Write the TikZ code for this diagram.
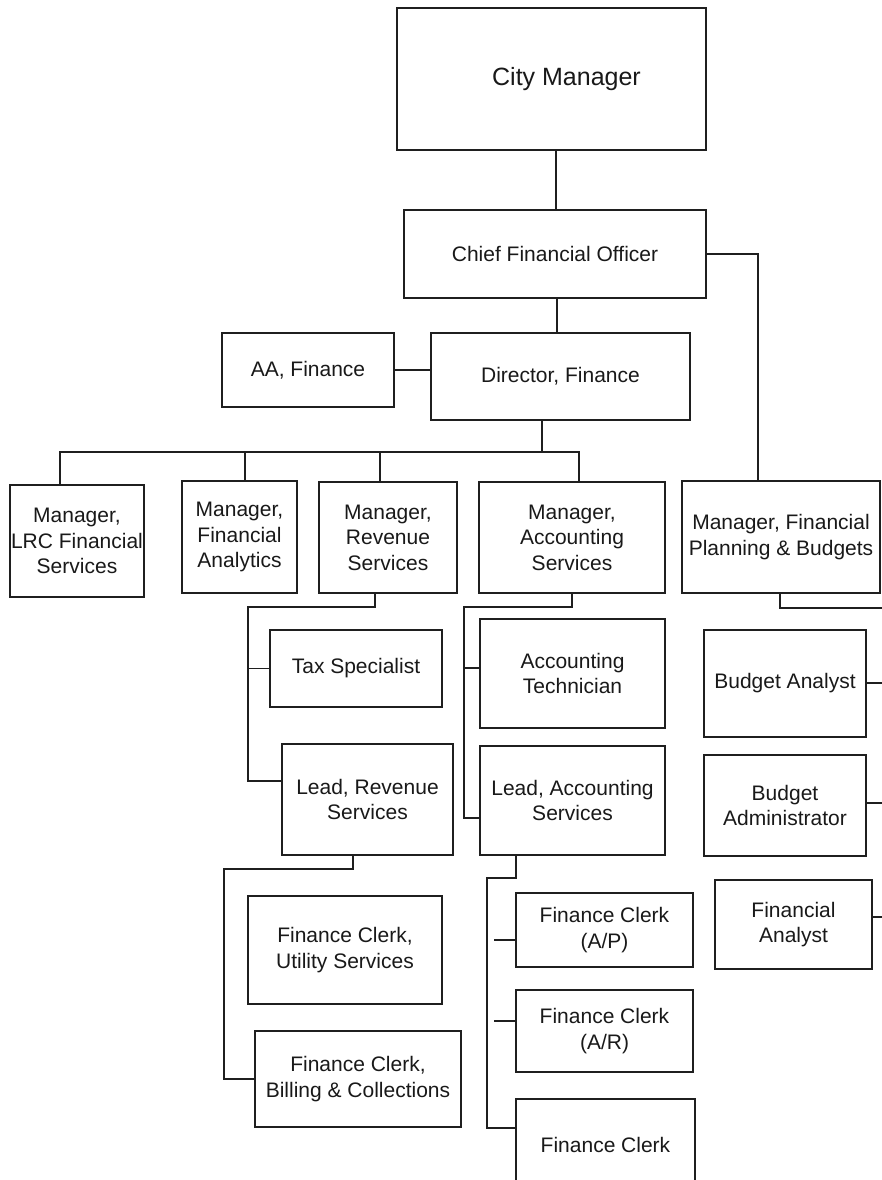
\documentclass[tikz,border=0pt]{standalone}
\usepackage{fontspec}
\setmainfont{Liberation Sans}
\usetikzlibrary{calc}
\tikzset{
  box/.style={draw=black!88, line width=1.8pt, rectangle, inner sep=0pt,
              align=center, text=black!90, font=\fontsize{21}{25.5}\selectfont},
  link/.style={draw=black!88, line width=1.8pt},
}
\begin{document}
\begin{tikzpicture}[x=1pt,y=-1pt]
\useasboundingbox (0,0) rectangle (881,1180);
\fill[white] (0,0) rectangle (881,1180);

% top of the organisation
\node[box, minimum width=309pt, minimum height=142pt, font=\fontsize{25}{30}\selectfont] (cm) at (551.5,79) {\hspace*{30pt}\raisebox{-10pt}{City Manager}};
\node[box, minimum width=302pt, minimum height=88pt] (cfo) at (555,254) {Chief Financial Officer};
\node[box, minimum width=259pt, minimum height=87pt] (dir) at (560.5,376.5) {Director, Finance};
\node[box, minimum width=172pt, minimum height=74pt] (aa) at (308,370) {AA, Finance};

% managers
\node[box, minimum width=134pt, minimum height=112pt] (lrc) at (77,541) {Manager,\\LRC Financial\\Services};
\node[box, minimum width=115pt, minimum height=112pt] (ana) at (239.5,537) {Manager,\\Financial\\Analytics};
\node[box, minimum width=138pt, minimum height=111pt] (rev) at (388,537.5) {Manager,\\Revenue\\Services};
\node[box, minimum width=186pt, minimum height=111pt] (acc) at (572,537.5) {Manager,\\Accounting\\Services};
\node[box, minimum width=198pt, minimum height=112pt] (fpb) at (781,537) {Manager, Financial\\Planning \& Budgets};

% revenue branch
\node[box, minimum width=172pt, minimum height=77pt] (tax) at (356,668.5) {Tax Specialist};
\node[box, minimum width=171pt, minimum height=111pt] (lrev) at (367.5,799.5) {Lead, Revenue\\Services};
\node[box, minimum width=194pt, minimum height=108pt] (fcu) at (345,950) {Finance Clerk,\\Utility Services};
\node[box, minimum width=206pt, minimum height=96pt] (fcb) at (358,1079) {Finance Clerk,\\Billing \& Collections};

% accounting branch
\node[box, minimum width=185pt, minimum height=109pt] (tech) at (572.5,673.5) {Accounting\\Technician};
\node[box, minimum width=185pt, minimum height=109pt] (lacc) at (572.5,800.5) {Lead, Accounting\\Services};
\node[box, minimum width=177pt, minimum height=74pt] (fcap) at (604.5,930) {Finance Clerk\\(A/P)};
\node[box, minimum width=177pt, minimum height=82pt] (fcar) at (604.5,1031) {Finance Clerk\\(A/R)};
\node[box, minimum width=179pt, minimum height=91pt] (fc) at (605.5,1144.5) {Finance Clerk};

% planning & budgets branch
\node[box, minimum width=162pt, minimum height=107pt] (ba) at (785,683.5) {Budget Analyst};
\node[box, minimum width=162pt, minimum height=101pt] (badm) at (785,805.5) {Budget\\Administrator};
\node[box, minimum width=157pt, minimum height=89pt] (fa) at (793.5,924.5) {Financial\\Analyst};

% trunk and bus coordinates
\coordinate (bus) at (0,452);
\coordinate (revk) at (248,607);
\coordinate (acck) at (464,607);
\coordinate (lrevk) at (224,869);
\coordinate (lacck) at (487,878);
\coordinate (stubx) at (494,0);
\coordinate (edge) at (884,0);

% upper connectors
\draw[link] ([xshift=4.5pt]cm.south) -- ([xshift=4.5pt]cm.south |- cfo.north);
\draw[link] ([xshift=2pt]cfo.south) -- ([xshift=2pt]cfo.south |- dir.north);
\draw[link] (cfo.east) -| ([xshift=-23pt]fpb.north);
\draw[link] (aa.east) -- (aa.east -| dir.west);
\draw[link] ([xshift=-18.5pt]dir.south) -- ([xshift=-18.5pt]dir.south |- bus);

% bus to managers
\draw[link] ([xshift=-17pt]lrc.north) |- ([xshift=7pt]acc.north |- bus) -- ([xshift=7pt]acc.north);
\draw[link] ([xshift=5.5pt]ana.north) -- ([xshift=5.5pt]ana.north |- bus);
\draw[link] ([xshift=-8pt]rev.north) -- ([xshift=-8pt]rev.north |- bus);

% revenue services
\draw[link] ([xshift=-13pt]rev.south) |- (revk) |- ([yshift=18.5pt]lrev.west);
\draw[link] (tax.west) -- (tax.west -| revk);
\draw[link] ([xshift=-14.5pt]lrev.south) |- (lrevk) |- (fcb.west);

% accounting services
\draw[link] (acc.south) |- (acck) |- ([yshift=-17.5pt]lacc.west);
\draw[link] ([yshift=5.5pt]tech.west) -- ([yshift=5.5pt]tech.west -| acck);
\draw[link] ([xshift=-56.5pt]lacc.south) |- (lacck) |- ([yshift=16.5pt]fc.west);
\draw[link] ([yshift=-10pt]fcap.west) -- ([yshift=-10pt]fcap.west -| stubx);
\draw[link] ([yshift=10pt]fcar.west) -- ([yshift=10pt]fcar.west -| stubx);

% planning & budgets
\draw[link] ([xshift=-1pt]fpb.south) -- ++(0,14) -- ++(110,0);
\draw[link] ([yshift=0.5pt]ba.east) -- ([yshift=0.5pt]ba.east -| edge);
\draw[link] ([yshift=2.5pt]badm.east) -- ([yshift=2.5pt]badm.east -| edge);
\draw[link] ([yshift=7.5pt]fa.east) -- ([yshift=7.5pt]fa.east -| edge);
\end{tikzpicture}
\end{document}
